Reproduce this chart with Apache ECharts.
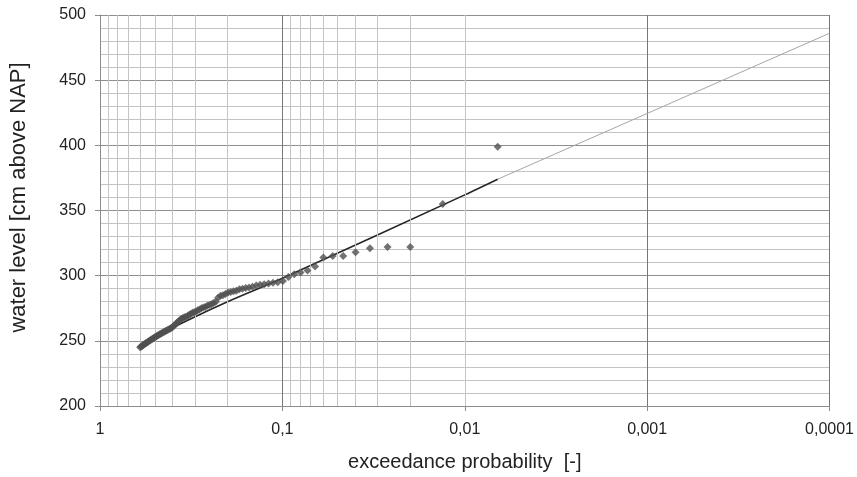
<!DOCTYPE html>
<html>
<head>
<meta charset="utf-8">
<script src="https://cdn.jsdelivr.net/npm/echarts@6/dist/echarts.min.js"></script>
<style>
  html, body { margin: 0; padding: 0; background: #fff; }
  #chart { width: 857px; height: 477px; }
</style>
</head>
<body>
<div id="chart"></div>
<script>
// exceedance probability of each observed annual maximum
const probs = [
  0.0066, 0.0132, 0.0199, 0.0265, 0.0331, 0.0397, 0.0464, 0.0530, 0.0596, 0.0662,
  0.0728, 0.0795, 0.0861, 0.0927, 0.0993, 0.1060, 0.1126, 0.1192, 0.1258, 0.1325,
  0.1391, 0.1457, 0.1523, 0.1589, 0.1656, 0.1722, 0.1788, 0.1854, 0.1921, 0.1987,
  0.2053, 0.2119, 0.2185, 0.2252, 0.2318, 0.2384, 0.2450, 0.2517, 0.2583, 0.2649,
  0.2715, 0.2781, 0.2848, 0.2914, 0.2980, 0.3046, 0.3113, 0.3179, 0.3245, 0.3311,
  0.3377, 0.3444, 0.3510, 0.3576, 0.3642, 0.3709, 0.3775, 0.3841, 0.3907, 0.3974,
  0.4040, 0.4106, 0.4172, 0.4238, 0.4305, 0.4371, 0.4437, 0.4503, 0.4570, 0.4636,
  0.4702, 0.4768, 0.4834, 0.4901, 0.4967, 0.5033, 0.5099, 0.5166, 0.5232, 0.5298,
  0.5364, 0.5430, 0.5497, 0.5563, 0.5629, 0.5695, 0.5762, 0.5828, 0.5894, 0.5960,
  0.6026
];
// water level [cm above NAP]
const levels = [
  399, 355, 322, 322, 321, 318, 315, 315, 314, 307,
  304, 302.5, 301, 299, 296, 295, 294.5, 294, 293.5, 293,
  292.5, 291.5, 291, 290.5, 290, 289.5, 288.5, 288, 287.5, 287,
  286, 285, 284.5, 283, 280, 279, 278, 277.5, 277, 276,
  275.5, 275, 274, 273.5, 272.5, 272, 271.5, 270.5, 270, 269,
  268.5, 268, 267.5, 267, 266, 265, 264, 263, 262, 261,
  260, 259.5, 259, 258.5, 258, 257.5, 257, 256.5, 256, 255.5,
  255, 254.5, 254, 253.5, 253, 252.5, 252, 251.5, 251, 250.5,
  250, 249.5, 249, 248.5, 248, 247.5, 247, 246.5, 246, 245.5,
  245
];

// fitted distribution, within the observed range
const fitProbs = [0.6, 0.4, 0.2, 0.1, 0.01, 0.0066];
const fitLevels = [246, 260, 280, 298, 362, 374];

// extrapolation beyond the observations
const extProbs = [0.0066, 0.0001];
const extLevels = [374, 486];

const xTicks = [1, 0.1, 0.01, 0.001, 0.0001];
const xTickLabels = ['1', '0,1', '0,01', '0,001', '0,0001'];

const pairs = (xs, ys) => xs.map((x, i) => [x, ys[i]]);

// minor vertical lines 0.2 .. 0.9 of every decade
const minorX = [];
[1, 0.1, 0.01, 0.001].forEach(d => {
  for (let m = 2; m <= 9; m++) minorX.push({ xAxis: +(m * d / 10).toPrecision(3) });
});

const chart = echarts.init(document.getElementById('chart'));
const font = 'Liberation Sans, Arial, sans-serif';

chart.setOption({
  backgroundColor: '#fff',
  animation: false,
  grid: { left: 98, right: 25, top: 15, bottom: 66 },
  xAxis: {
    type: 'log',
    logBase: 10,
    inverse: true,
    min: 0.0001,
    max: 1,
    name: 'exceedance probability  [-]',
    nameLocation: 'middle',
    nameGap: 46,
    nameTextStyle: { fontFamily: font, fontSize: 20, color: '#222' },
    axisLine: { show: true, lineStyle: { color: '#8c8c8c', width: 1 } },
    axisTick: { show: true, length: 5, lineStyle: { color: '#8c8c8c' } },
    axisLabel: {
      fontFamily: font, fontSize: 16, color: '#222', margin: 16,
      formatter: v => {
        const i = xTicks.findIndex(t => Math.abs(Math.log10(t) - Math.log10(v)) < 1e-6);
        return i >= 0 ? xTickLabels[i] : '';
      }
    },
    splitLine: { show: true, lineStyle: { color: '#777777', width: 1 } }
  },
  yAxis: {
    type: 'value',
    min: 200,
    max: 500,
    interval: 50,
    name: 'water level [cm above NAP]',
    nameLocation: 'middle',
    nameGap: 70,
    nameTextStyle: { fontFamily: font, fontSize: 22, color: '#222', padding: [0, 0, 0, 26] },
    axisLine: { show: true, lineStyle: { color: '#8c8c8c', width: 1 } },
    axisTick: { show: true, length: 5, lineStyle: { color: '#8c8c8c' } },
    axisLabel: { fontFamily: font, fontSize: 16, color: '#222', margin: 14 },
    splitLine: { show: true, lineStyle: { color: '#8f8f8f', width: 1 } },
    minorTick: { show: false, splitNumber: 5 },
    minorSplitLine: { show: true, lineStyle: { color: '#c4c4c4', width: 1 } }
  },
  series: [
    {
      // carrier for the minor vertical grid lines
      type: 'line',
      data: [],
      z: 1,
      markLine: {
        silent: true,
        symbol: 'none',
        label: { show: false },
        lineStyle: { color: '#c4c4c4', type: 'solid', width: 1 },
        data: minorX
      }
    },
    {
      name: 'extrapolation',
      type: 'line',
      data: pairs(extProbs, extLevels),
      showSymbol: false,
      z: 3,
      lineStyle: { color: '#a6a6a6', width: 1 }
    },
    {
      name: 'fit',
      type: 'line',
      data: pairs(fitProbs, fitLevels),
      showSymbol: false,
      smooth: 0.3,
      z: 4,
      lineStyle: { color: '#262626', width: 1.6 }
    },
    {
      name: 'observed',
      type: 'scatter',
      data: pairs(probs, levels),
      symbol: 'diamond',
      symbolSize: 8,
      z: 5,
      itemStyle: { color: '#505050' }
    }
  ]
});
</script>
</body>
</html>
